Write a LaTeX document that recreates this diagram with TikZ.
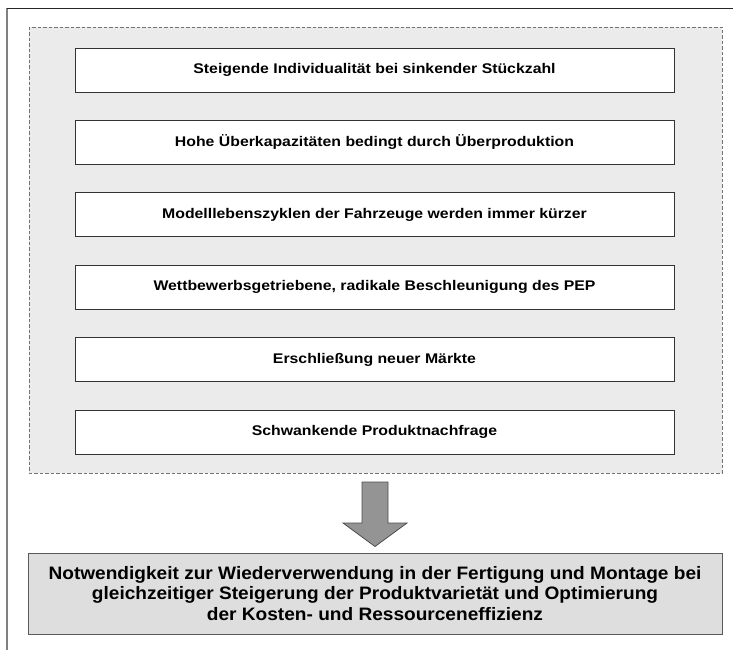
\documentclass[tikz,border=0pt]{standalone}
\usepackage{fontspec}
\setmainfont{Liberation Sans}
\newfontfamily\factorfont[FakeStretch=1.13]{Liberation Sans}
\newfontfamily\resultfont[FakeStretch=1.06]{Liberation Sans}
\begin{document}
\begin{tikzpicture}[x=1pt,y=-1pt,
  factor/.style={draw=black!80, line width=0.9pt, fill=white, minimum width=599pt,
    minimum height=44pt, font=\factorfont\bfseries\fontsize{14}{16}\selectfont, inner sep=0pt},
  result/.style={draw=black!65, line width=0.9pt, fill=black!13, minimum width=694pt,
    minimum height=81pt, align=center, font=\resultfont\bfseries\fontsize{18}{20.5}\selectfont, inner sep=0pt},
  group/.style={draw=black!55, dash pattern=on 3.5pt off 2pt, line width=0.8pt, fill=black!8}]
\useasboundingbox (0,0) rectangle (733,650);
% page frame (left and top edges)
\draw[black!50, line width=1.4pt] (7,8) -- (7,650);
\draw[black!85, line width=0.9pt] (7,8) -- (733,8);
% dashed group of influencing factors
\path[group] (29,27) rectangle (722,473);
\node[factor] (f1) at (374.5,70)   {Steigende Individualität bei sinkender Stückzahl};
\node[factor] (f2) at (374.5,142.4) {Hohe Überkapazitäten bedingt durch Überproduktion};
\node[factor] (f3) at (374.5,214.8) {Modelllebenszyklen der Fahrzeuge werden immer kürzer};
\node[factor] (f4) at (374.5,287.2) {Wettbewerbsgetriebene, radikale Beschleunigung des PEP};
\node[factor] (f5) at (374.5,359.6) {Erschließung neuer Märkte};
\node[factor] (f6) at (374.5,432)  {Schwankende Produktnachfrage};
% consequence
\node[result] (res) at (375,593.5) {Notwendigkeit zur Wiederverwendung in der Fertigung und Montage bei\\
  gleichzeitiger Steigerung der Produktvarietät und Optimierung\\
  der Kosten- und Ressourceneffizienz};
% block arrow
\draw[draw=black!70, line width=0.8pt, fill=black!42, line join=miter]
  (362,482) -- (388,482) -- (388,523) -- (407,523) -- (375,546.5) -- (343,523) -- (362,523) -- cycle;
\end{tikzpicture}
\end{document}
